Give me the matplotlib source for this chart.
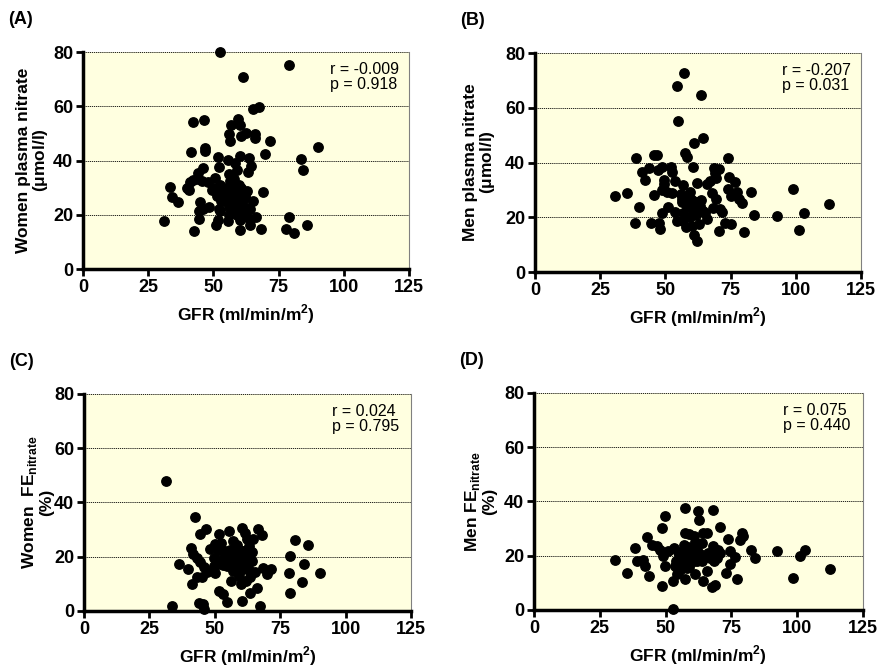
import matplotlib
matplotlib.use("Agg")
import matplotlib.pyplot as plt

plt.rcParams['font.family'] = ['Liberation Sans', 'DejaVu Sans']
plt.rcParams['font.weight'] = 'bold'
plt.rcParams['mathtext.fontset'] = 'custom'
plt.rcParams['mathtext.rm'] = 'Liberation Sans'
plt.rcParams['mathtext.bf'] = 'Liberation Sans:bold'

# (A) women GFR vs plasma nitrate
gfr_a = [52.4, 79.0, 61.2, 65.2, 67.4, 42.3, 46.4, 56.6, 59.6, 60.3, 62.4, 60.7, 56.1, 56.5,
         65.8, 65.9, 71.6, 90.2, 46.9, 46.7, 41.3, 69.8, 60.3, 51.6, 63.7, 83.5, 55.7, 58.3,
         52.2, 64.5, 63.3, 84.4, 46.2, 44.1, 56.1, 59.2, 42.1, 50.5, 45.8, 33.2, 41.0, 39.9,
         40.6, 56.2, 57.5, 52.4, 49.4, 60.5, 69.0, 62.9, 34.0, 36.4, 44.7, 51.5, 54.4, 57.5,
         65.2, 44.5, 48.3, 52.4, 57.5, 60.1, 63.3, 78.9, 31.2, 44.5, 51.6, 55.7, 60.3, 66.5,
         50.9, 63.9, 86.1, 78.0, 42.4, 60.3, 68.2, 80.9,
         54, 55, 57, 58, 59, 60, 61, 62, 58, 59, 61, 62, 56, 57, 60, 63, 64, 55, 53, 58,
         60, 62, 56, 64, 48, 50, 52, 53, 46, 44]
nit_a = [80.0, 75.1, 70.8, 59.1, 59.7, 54.2, 55.1, 53.1, 55.3, 53.2, 50.1, 48.9, 49.8, 47.3,
         49.9, 48.3, 47.3, 44.9, 44.6, 43.4, 43.1, 42.3, 41.8, 41.2, 40.9, 40.6, 40.3, 39.1,
         37.6, 37.8, 35.6, 36.5, 37.1, 35.3, 35.1, 36.6, 32.9, 33.5, 32.3, 30.2, 32.1, 29.7,
         29.0, 32.3, 31.7, 31.1, 29.0, 29.9, 28.3, 28.6, 26.4, 24.8, 24.7, 26.8, 24.9, 25.8,
         24.9, 21.3, 22.9, 21.3, 21.9, 23.1, 22.5, 19.3, 17.6, 18.4, 18.2, 17.6, 17.9, 19.2,
         16.2, 16.3, 16.3, 14.9, 13.9, 14.5, 14.6, 13.1,
         28, 30, 27, 29, 26, 28, 24, 26, 22, 20, 20, 21, 23, 24, 22, 19, 22, 26, 29, 33,
         31, 27, 20, 18, 32, 30, 22, 25, 22, 33]

# (B) men GFR vs plasma nitrate
gfr_b = [57.3, 54.3, 63.5, 55.0, 64.4, 60.8, 57.6, 58.4, 45.5, 46.9, 38.7, 74.1, 60.7, 48.7,
         43.8, 47.3, 52.3, 52.5, 41.2, 42.2, 49.6, 53.6, 49.5, 56.9, 62.1, 68.8, 70.7, 69.0,
         69.6, 67.1, 66.1, 74.5, 76.6, 74.1, 77.3, 67.7, 82.7, 98.8, 35.3, 45.8, 50.6, 52.6,
         48.7, 30.5, 56.0, 59.4, 75.2, 78.4, 79.2, 69.6, 63.6, 62.3, 56.5, 59.4, 112.7, 39.9,
         50.9, 68.4, 70.9, 64.5, 60.7, 71.9, 53.7, 48.6, 65.2, 103.1, 84.0, 92.7, 56.9, 59.4,
         61.6, 38.3, 44.5, 47.7, 54.3, 66.1, 72.9, 75.0, 57.9, 60.1, 62.9, 47.8, 101.2, 70.5,
         80.0, 61.0, 62.0, 56.6, 58.4, 60.4, 59.1, 56.2, 63.3]
nit_b = [72.8, 67.9, 64.6, 55.2, 48.9, 47.3, 43.3, 42.1, 42.7, 42.7, 41.6, 41.8, 38.2, 38.4,
         37.9, 37.4, 38.4, 36.6, 36.6, 33.6, 33.6, 33.3, 32.1, 31.9, 32.6, 38.0, 37.7, 36.1,
         34.3, 33.1, 32.1, 34.8, 32.9, 30.3, 29.2, 28.7, 29.3, 30.2, 28.7, 28.1, 29.3, 28.9,
         30.0, 27.6, 28.4, 29.3, 27.7, 26.7, 25.3, 26.6, 26.3, 25.7, 25.7, 25.0, 24.8, 23.8,
         23.8, 23.2, 22.9, 22.4, 22.6, 22.1, 21.8, 21.6, 21.6, 21.6, 20.7, 20.4, 21.4, 20.2,
         20.8, 18.0, 18.0, 18.0, 18.7, 19.2, 17.8, 17.6, 16.5, 16.9, 17.5, 15.8, 15.4, 15.0,
         14.7, 13.7, 11.4, 18.5, 23.8, 26.3, 27.4, 26.8, 24.0]

# (C) women GFR vs FE nitrate
gfr_c = [31.3, 42.5, 46.7, 60.3, 66.5, 55.6, 61.4, 51.7, 44.4, 68.1, 62.2, 64.4, 57.1, 80.7,
         52.5, 49.9, 85.8, 58.4, 62.9, 40.8, 48.0, 51.4, 55.9, 60.3, 64.2, 41.6, 54.9, 59.1,
         62.9, 78.6, 43.1, 49.5, 52.7, 57.1, 61.0, 64.2, 44.4, 58.7, 55.4, 36.4, 84.2, 51.4,
         54.6, 60.3, 45.7, 49.5, 68.6, 39.9, 71.4, 46.9, 50.1, 65.4, 78.3, 90.1, 69.9, 57.1,
         62.2, 43.1, 59.2, 63.5, 61.9, 45.2, 56.3, 41.2, 83.2, 60.1, 66.1, 51.6, 53.3, 63.5,
         78.6, 54.6, 60.3, 44.1, 45.3, 33.8, 67.2, 45.9,
         56, 57, 58, 59, 60, 61, 62, 63, 57, 58, 59, 60, 61, 56, 55, 53, 54, 58, 62, 63]
fe_c = [48.0, 34.5, 30.2, 30.7, 30.1, 29.6, 28.8, 28.3, 28.2, 27.9, 26.5, 26.5, 25.9, 26.0,
        25.0, 24.7, 24.5, 24.2, 23.9, 23.1, 22.7, 22.5, 22.5, 22.1, 21.9, 20.9, 20.9, 20.9,
        20.4, 20.1, 19.4, 19.4, 19.1, 19.4, 18.8, 18.4, 17.9, 17.9, 17.7, 17.2, 17.3, 17.2,
        16.7, 16.9, 16.3, 16.5, 16.0, 15.3, 15.3, 14.5, 14.1, 14.2, 14.0, 14.0, 13.6, 14.9,
        15.5, 12.7, 13.0, 12.6, 11.2, 12.5, 11.2, 9.9, 10.6, 10.1, 8.3, 7.4, 6.2, 6.5,
        6.8, 3.2, 3.8, 3.1, 2.7, 1.8, 1.8, 0.7,
        20, 22, 18, 21, 19, 17, 20, 18, 16, 24, 17, 15, 22, 18, 19, 17, 22, 20, 18, 15]

# (D) men GFR vs FE nitrate
gfr_d = [53.0, 57.4, 62.2, 68.0, 62.6, 49.9, 70.5, 48.7, 57.2, 58.8, 60.9, 64.4, 65.9, 79.0,
         79.6, 78.1, 42.8, 73.9, 63.8, 44.7, 46.6, 68.0, 58.7, 38.4, 53.2, 82.4, 103.1, 92.3,
         47.9, 51.0, 61.2, 74.6, 54.9, 70.7, 100.9, 49.2, 59.3, 63.1, 76.4, 84.1, 66.7, 69.5,
         30.6, 39.0, 41.3, 56.8, 60.9, 63.8, 68.5, 74.6, 42.1, 49.6, 53.6, 58.1, 55.5, 112.3,
         35.5, 54.5, 61.0, 73.0, 65.9, 43.6, 77.3, 98.6, 57.4, 64.4, 52.8, 48.7, 67.7, 68.8,
         57, 58, 59, 60, 61, 62, 60, 58, 56, 55, 57, 59, 61, 62, 63, 54, 56, 66, 68, 70]
fe_d = [0.5, 37.5, 36.6, 36.8, 33.1, 34.5, 30.7, 30.3, 28.2, 27.9, 27.4, 28.3, 28.3, 28.2,
        27.1, 25.8, 26.8, 26.2, 24.8, 24.1, 23.7, 23.7, 23.2, 22.9, 22.9, 22.1, 22.1, 21.7,
        22.1, 21.7, 21.7, 21.7, 21.2, 20.9, 20.0, 19.9, 20.2, 20.7, 19.4, 19.3, 19.0, 19.3,
        18.4, 17.9, 18.4, 18.2, 17.9, 17.9, 18.2, 16.9, 16.1, 16.2, 16.1, 15.5, 14.8, 15.2,
        13.7, 13.3, 13.3, 13.6, 14.3, 12.6, 11.4, 11.9, 11.3, 10.7, 10.7, 8.8, 8.6, 9.3,
        20, 22, 19, 21, 19, 18, 23, 17, 19, 21, 24, 16, 25, 22, 20, 18, 16, 21, 20, 22]

x_ticks = [0, 25, 50, 75, 100, 125]
y_ticks = [0, 20, 40, 60, 80]

panels = [
    ("(A)", gfr_a, nit_a, "Women plasma nitrate\n($\\mathbf{\\mu}$mol/l)", "r = -0.009\np = 0.918"),
    ("(B)", gfr_b, nit_b, "Men plasma nitrate\n($\\mathbf{\\mu}$mol/l)", "r = -0.207\np = 0.031"),
    ("(C)", gfr_c, fe_c, "Women  FE$_{\\mathbf{nitrate}}$\n(%)", "r = 0.024\np = 0.795"),
    ("(D)", gfr_d, fe_d, "Men FE$_{\\mathbf{nitrate}}$\n(%)", "r = 0.075\np = 0.440"),
]
# axes boxes [left, bottom, width, height] in figure fractions
boxes = [[0.0946, 0.5967, 0.3717, 0.3253],
         [0.6100, 0.5922, 0.3717, 0.3283],
         [0.0958, 0.0840, 0.3729, 0.3253],
         [0.6089, 0.0855, 0.3751, 0.3253]]
label_x = [-0.100, -0.117, -0.092, -0.112]

fig = plt.figure(figsize=(8.77, 6.67), dpi=100)

for (letter, x, y, ylab, stats), box, lx in zip(panels, boxes, label_x):
    ax = fig.add_axes(box)
    ax.set_facecolor('#ffffe0')
    ax.scatter(x, y, s=46, color='black', zorder=3, clip_on=False)
    ax.set_xlim(0, 125)
    ax.set_ylim(0, 80)
    ax.set_xticks(x_ticks, [str(t) for t in x_ticks], fontsize=13, fontweight='bold')
    ax.set_yticks(y_ticks, [str(t) for t in y_ticks], fontsize=13, fontweight='bold')
    for v in [20, 40, 60, 80]:
        ax.axhline(v, color='black', lw=0.6, ls=(0, (1.5, 1)), zorder=1)
    ax.spines['left'].set_linewidth(2.5)
    ax.spines['bottom'].set_linewidth(2.5)
    ax.spines['top'].set_visible(False)
    ax.spines['right'].set_color('#808080')
    ax.spines['right'].set_linewidth(0.8)
    ax.tick_params(direction='out', length=5, width=2, pad=2)
    ax.set_xlabel("GFR (ml/min/m$^{\\mathbf{2}}$)", fontsize=12.5, fontweight='bold', labelpad=5)
    ax.set_ylabel(ylab, fontsize=12.5, fontweight='bold', linespacing=1.0)
    ax.yaxis.set_label_coords(lx, 0.5)
    ax.text(0.757, 0.955, stats, transform=ax.transAxes, fontsize=11.5, va='top', ha='left',
            fontweight='normal', linespacing=1.0)
    fig.text(box[0] - 0.085, box[1] + box[3] + 0.042, letter, fontsize=13, fontweight='bold')

fig.savefig("out.png", dpi=100)
